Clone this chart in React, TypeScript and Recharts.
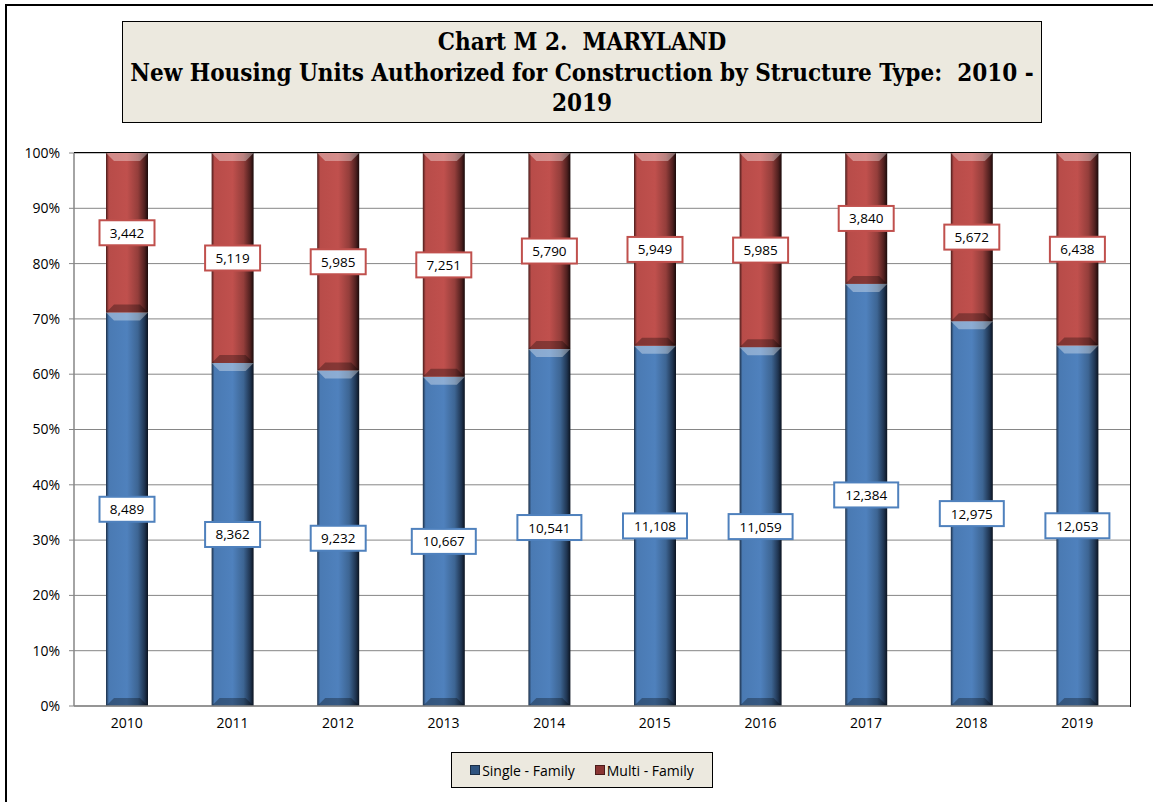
import React from "react";
import {
  BarChart,
  Bar,
  XAxis,
  YAxis,
  CartesianGrid,
  LabelList,
} from "recharts";

const years = ["2010", "2011", "2012", "2013", "2014", "2015", "2016", "2017", "2018", "2019"];
const singleFamily = [8489, 8362, 9232, 10667, 10541, 11108, 11059, 12384, 12975, 12053];
const multiFamily = [3442, 5119, 5985, 7251, 5790, 5949, 5985, 3840, 5672, 6438];
const yTicks = [0, 0.1, 0.2, 0.3, 0.4, 0.5, 0.6, 0.7, 0.8, 0.9, 1];

const data = years.map((year, i) => ({
  year,
  single: singleFamily[i],
  multi: multiFamily[i],
}));

const FONT = "'Open Sans', 'Noto Sans', sans-serif";
const BLUE = "#4F81BD";
const RED = "#C0504D";

// bar segment with a horizontal shade and a bevel at top and bottom
function BevelBar(props: any) {
  const { x, y, width, height, gradId } = props;
  if (!height || height <= 0) return null;
  const b = Math.min(8, height / 2);
  return (
    <g>
      <rect x={x} y={y} width={width} height={height} fill={`url(#${gradId})`} />
      <polygon
        points={`${x},${y} ${x + width},${y} ${x + width - b},${y + b} ${x + b},${y + b}`}
        fill="#ffffff"
        fillOpacity={0.35}
      />
      <polygon
        points={`${x},${y + height} ${x + width},${y + height} ${x + width - b},${y + height - b} ${x + b},${y + height - b}`}
        fill="#000000"
        fillOpacity={0.3}
      />
    </g>
  );
}

function boxLabel(color: string) {
  return (props: any) => {
    const { x, y, width, height, value } = props;
    const text = Number(value).toLocaleString("en-US");
    const w = text.length * 9 + 10;
    const h = 25;
    const cx = x + width / 2;
    const cy = y + height / 2;
    return (
      <g>
        <rect
          x={cx - w / 2}
          y={cy - h / 2}
          width={w}
          height={h}
          fill="#ffffff"
          stroke={color}
          strokeWidth={2}
        />
        <text
          x={cx}
          y={cy}
          textAnchor="middle"
          dominantBaseline="central"
          fontFamily={FONT}
          fontSize={13.5}
          fill="#000"
        >
          {text}
        </text>
      </g>
    );
  };
}

export default function App() {
  return (
    <div
      style={{
        position: "absolute",
        left: 0,
        top: 0,
        width: 1153,
        height: 802,
        overflow: "hidden",
        background: "#fff",
      }}
    >
      <div
        style={{
          position: "absolute",
          left: 5,
          top: 4,
          width: 1170,
          height: 820,
          border: "2px solid #000",
        }}
      />
      <BarChart
        width={1153}
        height={802}
        data={data}
        stackOffset="expand"
        margin={{ top: 153, right: 23, bottom: 66, left: 0 }}
        style={{ position: "absolute", left: 0, top: 0 }}
      >
        <defs>
          <linearGradient id="gBlue" x1="0" y1="0" x2="1" y2="0">
            <stop offset="0" stopColor="#1c2f47" />
            <stop offset="0.07" stopColor="#4a7ab3" />
            <stop offset="0.5" stopColor="#4F81BD" />
            <stop offset="0.76" stopColor="#3d6593" />
            <stop offset="0.92" stopColor="#1f3450" />
            <stop offset="1" stopColor="#0b1320" />
          </linearGradient>
          <linearGradient id="gRed" x1="0" y1="0" x2="1" y2="0">
            <stop offset="0" stopColor="#4a1c1b" />
            <stop offset="0.07" stopColor="#b84c49" />
            <stop offset="0.5" stopColor="#C0504D" />
            <stop offset="0.76" stopColor="#943e3b" />
            <stop offset="0.92" stopColor="#4f201f" />
            <stop offset="1" stopColor="#1a0a0a" />
          </linearGradient>
        </defs>
        <CartesianGrid vertical={false} stroke="#868686" strokeWidth={1} />
        <XAxis
          dataKey="year"
          height={30}
          tickLine={false}
          tickSize={0}
          tickMargin={12}
          axisLine={{ stroke: "#868686", strokeWidth: 1.5 }}
          tick={{ fontFamily: FONT, fontSize: 14, fill: "#000" }}
        />
        <YAxis
          width={74}
          domain={[0, 1]}
          ticks={yTicks}
          tickFormatter={(v: number) => `${Math.round(v * 100)}%`}
          tickSize={5}
          tickMargin={9}
          tickLine={{ stroke: "#868686" }}
          axisLine={{ stroke: "#868686", strokeWidth: 1.5 }}
          tick={{ fontFamily: FONT, fontSize: 14, fill: "#000" }}
        />
        <Bar
          dataKey="single"
          stackId="a"
          barSize={42}
          fill={BLUE}
          isAnimationActive={false}
          shape={(p: any) => <BevelBar {...p} gradId="gBlue" />}
        >
          <LabelList dataKey="single" content={boxLabel(BLUE)} />
        </Bar>
        <Bar
          dataKey="multi"
          stackId="a"
          barSize={42}
          fill={RED}
          isAnimationActive={false}
          shape={(p: any) => <BevelBar {...p} gradId="gRed" />}
        >
          <LabelList dataKey="multi" content={boxLabel(RED)} />
        </Bar>
      </BarChart>
      {/* plot area border, top and right */}
      <div
        style={{
          position: "absolute",
          left: 74,
          top: 152,
          width: 1056,
          height: 554,
          borderTop: "1.5px solid #000",
          borderRight: "1.5px solid #000",
          pointerEvents: "none",
        }}
      />
      {/* title box */}
      <div
        style={{
          position: "absolute",
          left: 122,
          top: 21,
          width: 920,
          height: 102,
          boxSizing: "border-box",
          background: "#ECE9DF",
          border: "1.5px solid #000",
          fontFamily: "'DejaVu Serif Condensed', 'DejaVu Serif', serif",
          fontStretch: "condensed",
          fontWeight: "bold",
          fontSize: 24,
          lineHeight: "30.5px",
          textAlign: "center",
          paddingTop: 5,
          color: "#000",
        }}
      >
        <div>Chart M 2.&nbsp; MARYLAND</div>
        <div style={{ whiteSpace: "nowrap" }}>
          New Housing Units Authorized for Construction by Structure Type:&nbsp; 2010 -
        </div>
        <div>2019</div>
      </div>
      {/* legend */}
      <div
        style={{
          position: "absolute",
          left: 451,
          top: 752,
          width: 262,
          height: 36,
          boxSizing: "border-box",
          background: "#ECE9DF",
          border: "1.5px solid #000",
          display: "flex",
          alignItems: "center",
          justifyContent: "center",
          gap: 20,
          fontFamily: FONT,
          fontSize: 14,
          color: "#000",
        }}
      >
        <span style={{ display: "flex", alignItems: "center", gap: 2 }}>
          <span style={{ width: 10, height: 10, background: "#2f5480", border: "1px solid #1c2f47", boxSizing: "border-box" }} />
          Single - Family
        </span>
        <span style={{ display: "flex", alignItems: "center", gap: 2 }}>
          <span style={{ width: 10, height: 10, background: "#8a3533", border: "1px solid #4a1c1b", boxSizing: "border-box" }} />
          Multi - Family
        </span>
      </div>
    </div>
  );
}
